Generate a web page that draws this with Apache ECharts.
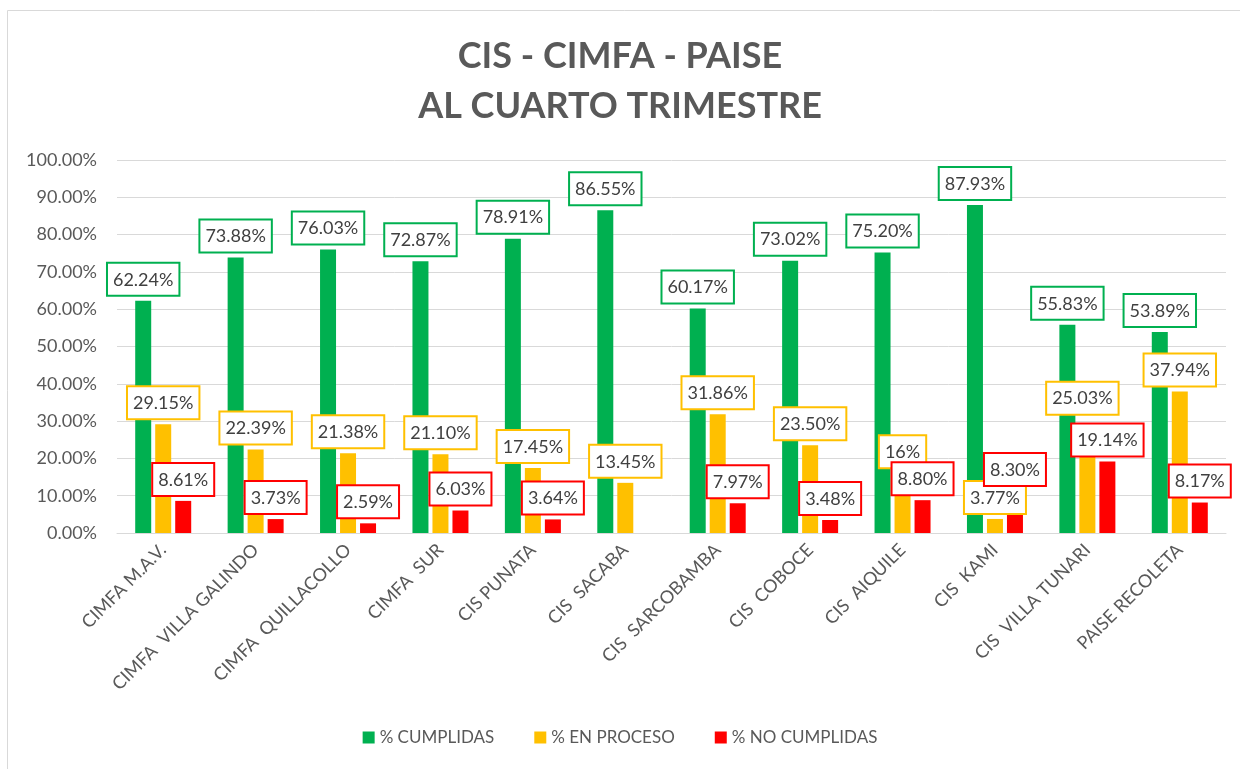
<!DOCTYPE html>
<html>
<head>
<meta charset="utf-8">
<script src="https://cdn.jsdelivr.net/npm/echarts@6/dist/echarts.min.js"></script>
<style>
  html, body { margin: 0; padding: 0; background: #fff; }
  #chart { width: 1240px; height: 769px; }
</style>
</head>
<body>
<div id="chart"></div>
<script>
// datos del gráfico
const categorias = ['CIMFA M.A.V.', 'CIMFA  VILLA GALINDO', 'CIMFA  QUILLACOLLO', 'CIMFA  SUR', 'CIS PUNATA', 'CIS  SACABA',
  'CIS  SARCOBAMBA', 'CIS  COBOCE', 'CIS  AIQUILE', 'CIS  KAMI', 'CIS  VILLA TUNARI', 'PAISE RECOLETA'];
const cumplidas = [62.24, 73.88, 76.03, 72.87, 78.91, 86.55, 60.17, 73.02, 75.20, 87.93, 55.83, 53.89];
const enProceso = [29.15, 22.39, 21.38, 21.10, 17.45, 13.45, 31.86, 23.50, 16, 3.77, 25.03, 37.94];
const noCumplidas = [8.61, 3.73, 2.59, 6.03, 3.64, null, 7.97, 3.48, 8.80, 8.30, 19.14, 8.17];

const chart = echarts.init(document.getElementById('chart'));
const FONT = 'Lato, "Open Sans", sans-serif';
const GRIS = '#595959';

// etiquetas movidas a mano en el original (índice -> desplazamiento)
const moverEtiqueta = {
  '% EN PROCESO': { 10: [-5, -20] },
  '% NO CUMPLIDAS': { 9: [0, -11] }
};

function etiqueta(color) {
  return {
    show: true,
    position: 'top',
    distance: 6,
    fontFamily: FONT,
    fontSize: 18,
    color: '#404040',
    backgroundColor: '#fff',
    borderColor: color,
    borderWidth: 2,
    padding: [7, 5, 6, 5],
    formatter: function (p) {
      if (p.value == null) return '';
      return Number.isInteger(p.value) ? p.value + '%' : p.value.toFixed(2) + '%';
    }
  };
}

function serie(nombre, datos, color) {
  const offs = moverEtiqueta[nombre] || {};
  return {
    name: nombre,
    type: 'bar',
    data: datos.map(function (v, i) {
      if (offs[i]) return { value: v, label: { offset: offs[i] } };
      return v;
    }),
    barWidth: 16,
    barGap: '25%',
    itemStyle: { color: color },
    label: etiqueta(color)
  };
}

chart.setOption({
  animation: false,
  textStyle: { fontFamily: FONT },
  title: {
    text: 'CIS - CIMFA - PAISE\nAL CUARTO TRIMESTRE',
    left: 'center',
    top: 26,
    textStyle: {
      fontFamily: FONT,
      fontSize: 36,
      fontWeight: 'bold',
      color: GRIS,
      lineHeight: 50
    }
  },
  graphic: [{
    type: 'rect',
    shape: { x: 7.5, y: 10.5, width: 1240, height: 770 },
    style: { fill: 'none', stroke: '#d9d9d9', lineWidth: 1 },
    silent: true
  }],
  grid: { left: 117, right: 14, top: 160, bottom: 236 },
  legend: {
    bottom: 18,
    left: 'center',
    itemWidth: 12,
    itemHeight: 12,
    itemGap: 40,
    icon: 'rect',
    textStyle: { fontFamily: FONT, fontSize: 17, color: GRIS }
  },
  xAxis: {
    type: 'category',
    data: categorias,
    axisTick: { show: false },
    axisLine: { lineStyle: { color: '#d9d9d9' } },
    axisLabel: { rotate: 45, interval: 0, fontSize: 18, color: GRIS, margin: 14, fontFamily: FONT }
  },
  yAxis: {
    type: 'value',
    min: 0,
    max: 100,
    interval: 10,
    axisLine: { show: false },
    splitLine: { lineStyle: { color: '#d9d9d9' } },
    axisLabel: {
      fontSize: 18,
      color: GRIS,
      margin: 20,
      fontFamily: FONT,
      formatter: function (v) { return v.toFixed(2) + '%'; }
    }
  },
  series: [
    serie('% CUMPLIDAS', cumplidas, '#00b050'),
    serie('% EN PROCESO', enProceso, '#ffc000'),
    serie('% NO CUMPLIDAS', noCumplidas, '#ff0000')
  ]
});
</script>
</body>
</html>
